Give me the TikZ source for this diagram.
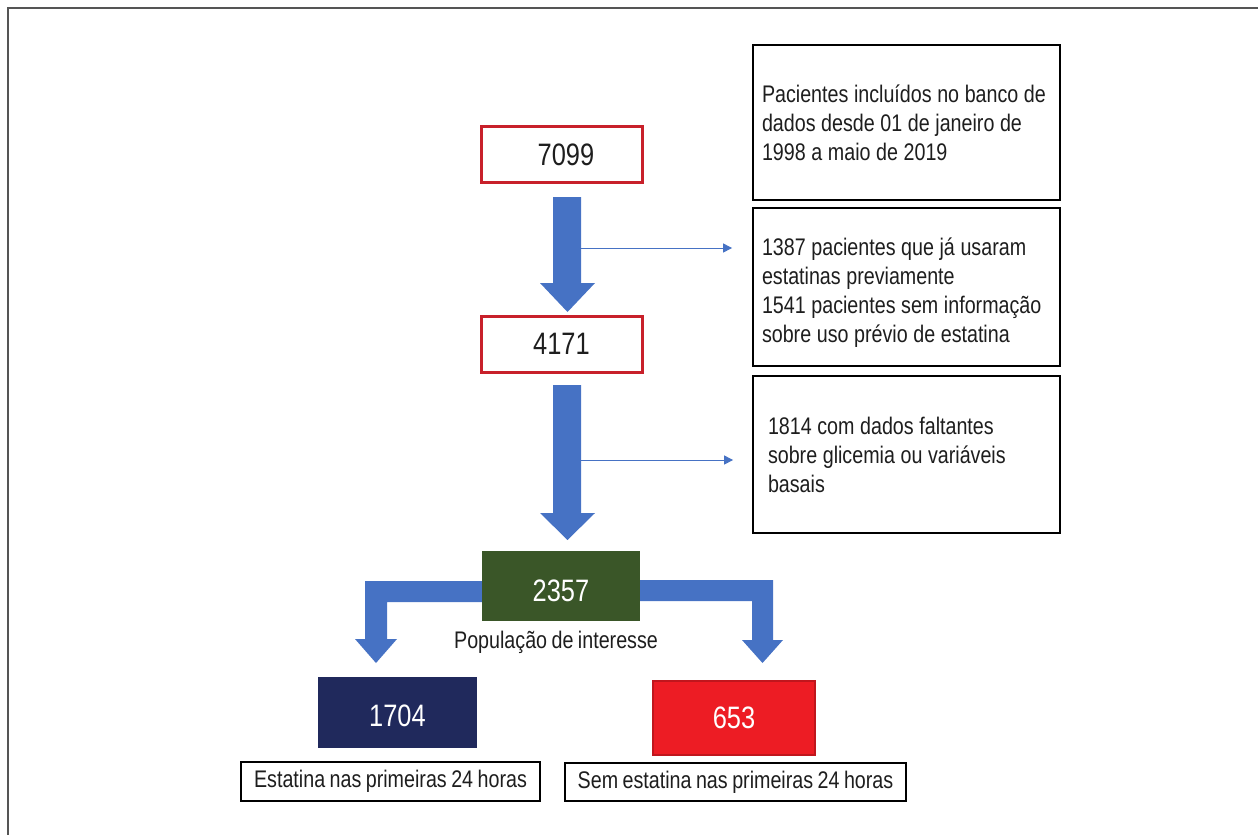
\documentclass[tikz,border=0pt]{standalone}
\usepackage{fontspec}
\setmainfont{Liberation Sans}[FakeStretch=0.82,WordSpace=0.82]
\usetikzlibrary{arrows.meta}
\definecolor{arrblue}{RGB}{70,114,196}
\definecolor{boxred}{RGB}{200,32,42}
\definecolor{olive}{RGB}{58,86,40}
\definecolor{navy}{RGB}{32,41,92}
\definecolor{brightred}{RGB}{237,28,36}
\definecolor{darkred}{RGB}{192,22,29}
\definecolor{txt}{RGB}{30,30,30}
\definecolor{framegray}{RGB}{85,85,85}
\newcommand\fixsp{\spaceskip=5.6pt plus 2pt minus 1.5pt\relax}
\begin{document}
\begin{tikzpicture}[x=1pt,y=-1pt,
  numbox/.style={draw=boxred,line width=3pt,fill=white,minimum width=161pt,minimum height=56pt,inner sep=0pt,text=txt,font=\fontsize{31}{36}\selectfont},
  colbox/.style={minimum width=159pt,minimum height=71pt,inner sep=0pt,text=white,font=\fontsize{31}{36}\selectfont},
  infobox/.style={draw=black,line width=1.8pt,fill=white,minimum width=307pt,text=txt,align=left,inner ysep=0pt,font=\fontsize{24}{29}\selectfont},
  labbox/.style={draw=black,line width=1.6pt,fill=white,inner sep=0pt,text=txt,font=\fontsize{24}{29}\selectfont},
  blockarrow/.style={fill=arrblue,draw=none},
  thinarrow/.style={draw=arrblue,line width=1pt,-{Triangle[length=9pt,width=9pt]}}
]
\useasboundingbox (0,0) rectangle (1258,835);
% outer frame
\draw[framegray,line width=1.6pt] (8,835) -- (8,8) -- (1258,8);

% block arrows
\fill[blockarrow] (553,197) -- (581,197) -- (581,283) -- (595,283) -- (567.5,312) -- (540,283) -- (553,283) -- cycle;
\fill[blockarrow] (553,385) -- (581,385) -- (581,513) -- (595,513) -- (567.5,540) -- (540,513) -- (553,513) -- cycle;
\fill[blockarrow] (500,581) -- (365,581) -- (365,639) -- (355,639) -- (376,663) -- (397,639) -- (387,639) -- (387,602) -- (500,602) -- cycle;
\fill[blockarrow] (620,580) -- (773,580) -- (773,640) -- (783,640) -- (762.5,663) -- (742,640) -- (752,640) -- (752,601) -- (620,601) -- cycle;

% main boxes
\node[numbox] (n7099) at (561.5,154.5) {\hspace{9pt}7099};
\node[numbox] (n4171) at (561.5,344) {4171};
\node[colbox,fill=olive,minimum width=158pt,minimum height=70pt,text height=30pt,text depth=0pt] (n2357) at (561,586) {2357};
\node[font=\fontsize{24}{29}\selectfont,text=txt,inner sep=0pt] (pop) at (556,642) {População de interesse};
\node[colbox,fill=navy,text height=28pt,text depth=0pt] (n1704) at (397.5,712.5) {1704};
\node[colbox,fill=brightred,draw=darkred,line width=1.5pt,minimum width=162pt,minimum height=74pt] (n653) at (734,718) {653};
\node[labbox,minimum width=299pt,minimum height=39pt] (lab1) at (390.5,781.5) {Estatina nas primeiras 24 horas};
\node[labbox,minimum width=341pt,minimum height=38pt] (lab2) at (735.5,782) {Sem estatina nas primeiras 24 horas};

% info boxes
\node[infobox,minimum height=155pt,inner xsep=9pt,text width=289pt] (boxA) at (906.5,122.5) {\fixsp Pacientes incluídos no banco de\\dados desde 01 de janeiro de\\1998 a maio de 2019};
\node[infobox,minimum height=158pt,inner xsep=9pt,text width=289pt] (boxB) at (906.5,287) {\fixsp\rule{0pt}{28pt}1387 pacientes que já usaram\\estatinas previamente\\1541 pacientes sem informação\\sobre uso prévio de estatina};
\node[infobox,minimum height=157pt,inner xsep=15pt,text width=277pt] (boxC) at (906.5,454.5) {\fixsp 1814 com dados faltantes\\sobre glicemia ou variáveis\\basais};

% thin arrows
\coordinate (s1) at (581,248);
\coordinate (e1) at ([xshift=-20pt]boxB.west |- s1);
\draw[thinarrow] (s1) -- (e1);
\coordinate (s2) at (581,460);
\coordinate (e2) at ([xshift=-19pt]boxC.west |- s2);
\draw[thinarrow] (s2) -- (e2);
\end{tikzpicture}
\end{document}
